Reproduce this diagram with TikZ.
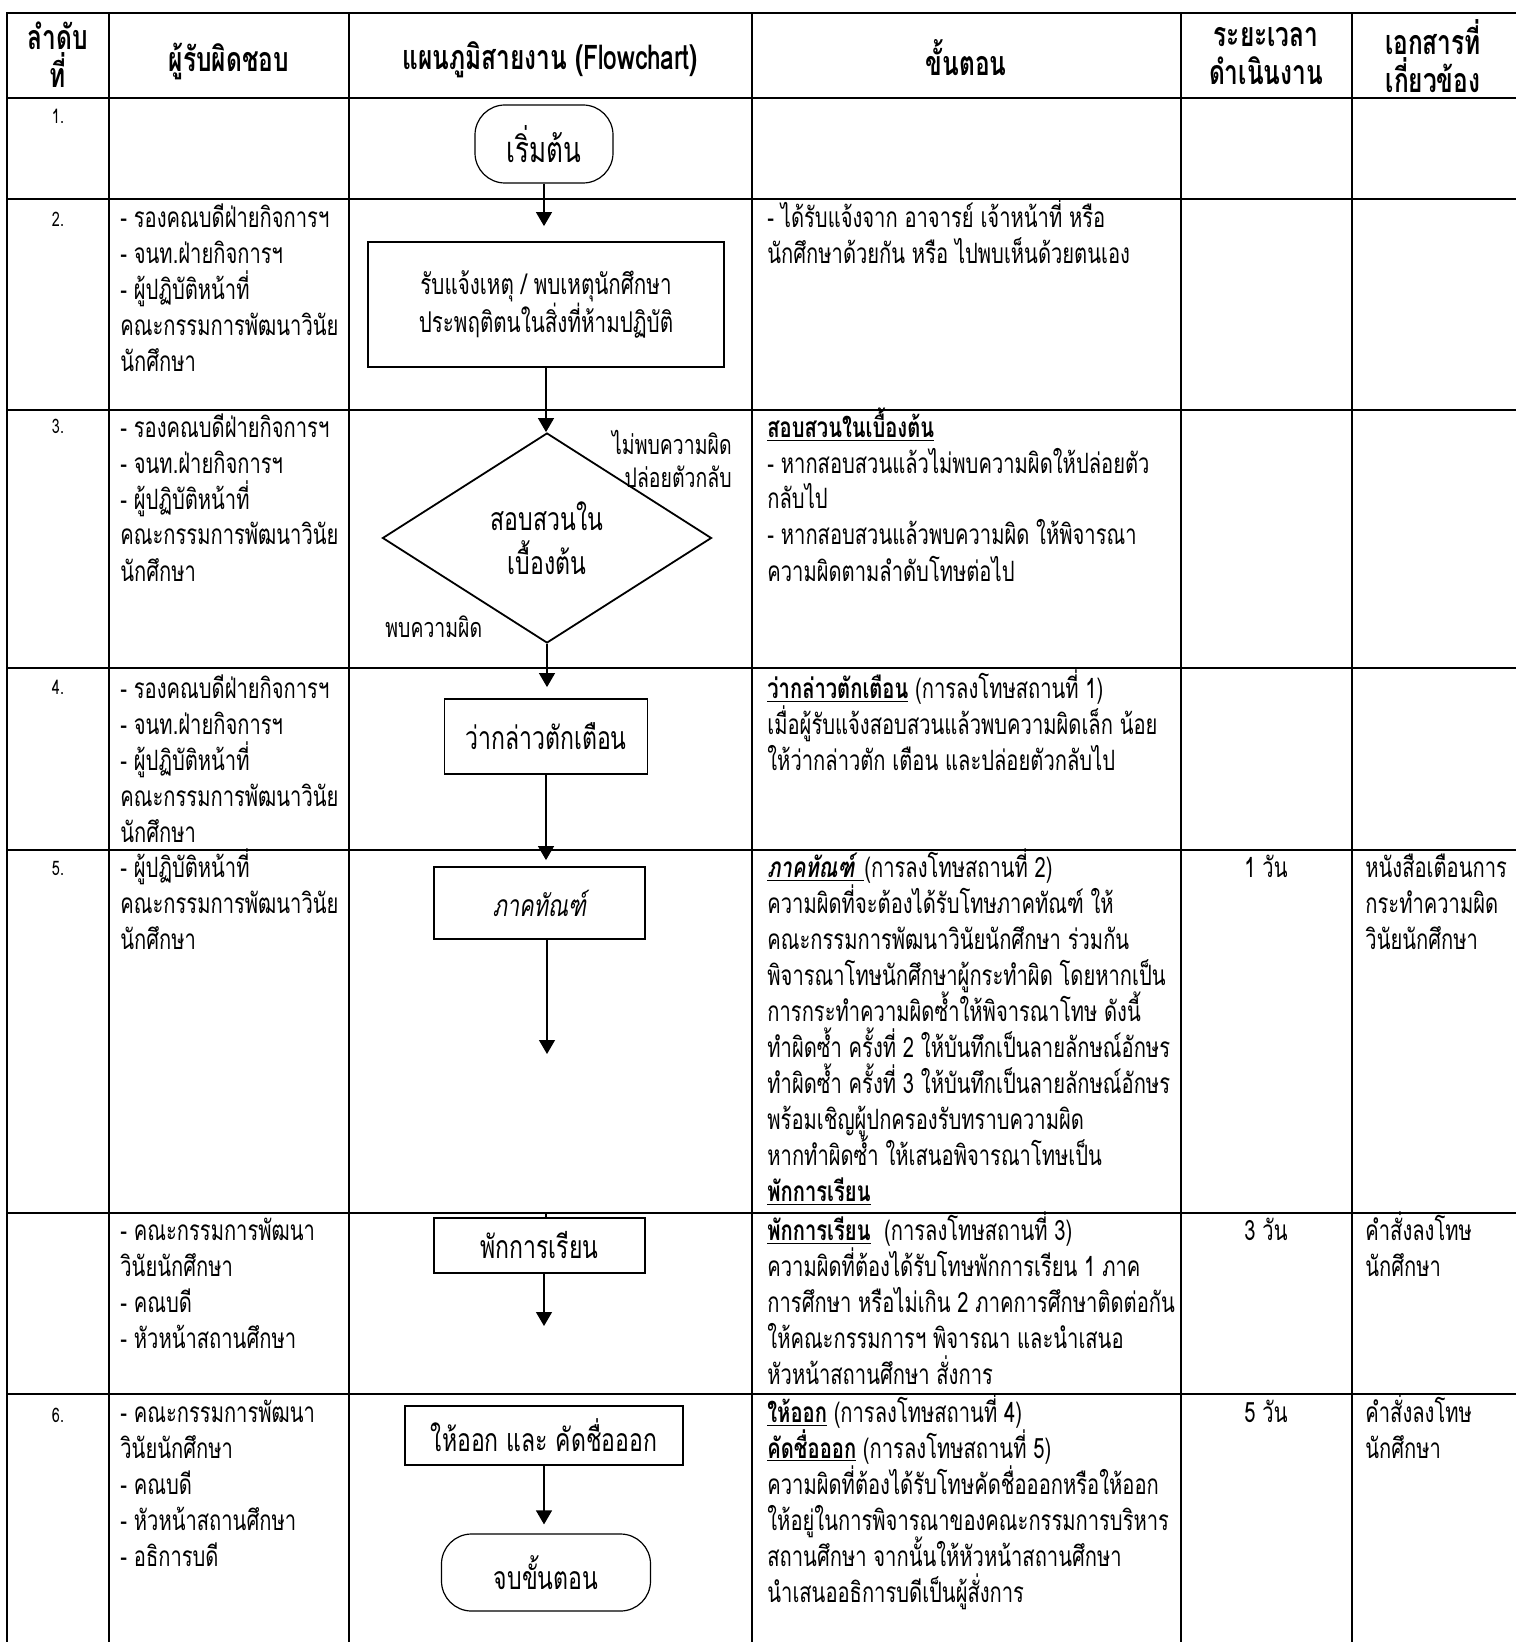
\documentclass[tikz,border=0pt]{standalone}
\usepackage{fontspec}
\setmainfont[Script=Thai, FakeStretch=0.72]{Loma}
\usepackage{tikz}
\usetikzlibrary{shapes.geometric, arrows.meta, positioning, calc}

% rows of a cell, baseline on the first row, fixed row pitch
\newcommand{\cellrows}[1]{\vtop{\lineskiplimit=-\maxdimen\def\\{\cr}%
  \halign{##\hfil\cr#1\crcr}}}

\tikzset{
  gridline/.style={line width=1.4pt, line cap=rect},
  cell/.style={anchor=base west, inner sep=0pt, font=\fontsize{14}{18}\selectfont},
  daycell/.style={anchor=base, inner sep=0pt, font=\fontsize{14}{18}\selectfont},
  numcell/.style={anchor=base, inner sep=0pt, font=\fontsize{10}{18}\selectfont},
  headcell/.style={align=center, inner sep=0pt, font=\bfseries\fontsize{17}{19}\selectfont},
  process/.style={rectangle, draw, line width=0.9pt, inner sep=2pt, align=center, font=\fontsize{16}{18}\selectfont},
  terminal/.style={rectangle, rounded corners=15pt, draw, line width=0.6pt, align=center, font=\fontsize{17}{18}\selectfont},
  decision/.style={diamond, draw, line width=0.9pt, inner sep=0pt, aspect=1.57, align=center, font=\fontsize{16}{22}\selectfont},
  flowlabel/.style={inner sep=0pt, font=\fontsize{13.5}{16.3}\selectfont},
  flow/.style={line width=0.6pt, -{Triangle[width=8pt, length=7pt]}},
}

\begin{document}
\begin{tikzpicture}[x=0.5pt, y=-0.5pt]
\useasboundingbox (0,0) rectangle (1515,1642);

% table grid
\foreach \y in {13,98,199,410,668,850,1213,1394}
  \draw[gridline] (7,\y) -- (1515,\y);
\foreach \x in {7,109,349,752,1181,1352}
  \draw[gridline] (\x,13) -- (\x,1642);

% header row
\node[headcell] (hnum) at (58,55) {ลำดับ\\ที่};
\node[headcell] (hresp) at (229,61) {ผู้รับผิดชอบ};
\node[headcell] (hflow) at (550,60) {แผนภูมิสายงาน (Flowchart)};
\node[headcell] (hstep) at (966,58) {ขั้นตอน};
\node[headcell] (htime) at (1266,56) {ระยะเวลา\\ดำเนินงาน};
\node[headcell] (hdoc) at (1433,56) {เอกสารที่\\เกี่ยวข้อง};

% step numbers
\node[numcell] (n1) at (58,124) {1.};
\node[numcell] (n2) at (58,227) {2.};
\node[numcell] (n3) at (58,433) {3.};
\node[numcell] (n4) at (58,694) {4.};
\node[numcell] (n5) at (58,875) {5.};
\node[numcell] (n6) at (58,1422) {6.};

% responsible persons
\node[cell] (r2) at (120,228) {\cellrows{- รองคณบดีฝ่ายกิจการฯ\\- จนท.ฝ่ายกิจการฯ\\- ผู้ปฏิบัติหน้าที่\\คณะกรรมการพัฒนาวินัย\\นักศึกษา}};
\node[cell] (r3) at (120,437) {\cellrows{- รองคณบดีฝ่ายกิจการฯ\\- จนท.ฝ่ายกิจการฯ\\- ผู้ปฏิบัติหน้าที่\\คณะกรรมการพัฒนาวินัย\\นักศึกษา}};
\node[cell] (r4) at (120,698) {\cellrows{- รองคณบดีฝ่ายกิจการฯ\\- จนท.ฝ่ายกิจการฯ\\- ผู้ปฏิบัติหน้าที่\\คณะกรรมการพัฒนาวินัย\\นักศึกษา}};
\node[cell] (r5) at (120,877) {\cellrows{- ผู้ปฏิบัติหน้าที่\\คณะกรรมการพัฒนาวินัย\\นักศึกษา}};
\node[cell] (r5b) at (120,1240) {\cellrows{- คณะกรรมการพัฒนา\\วินัยนักศึกษา\\- คณบดี\\- หัวหน้าสถานศึกษา}};
\node[cell] (r6) at (120,1422) {\cellrows{- คณะกรรมการพัฒนา\\วินัยนักศึกษา\\- คณบดี\\- หัวหน้าสถานศึกษา\\- อธิการบดี}};

% flowchart
\node[terminal, minimum width=69pt, minimum height=39pt, font=\fontsize{18}{18}\selectfont] (start) at (544,144) {เริ่มต้น};
\node[process, minimum width=178pt, minimum height=62.5pt, font=\fontsize{14.3}{18}\selectfont] (notify) at (546,304.5) {รับแจ้งเหตุ / พบเหตุนักศึกษา\\ประพฤติตนในสิ่งที่ห้ามปฏิบัติ};
\node[decision, minimum width=164.5pt, minimum height=105pt] (inquiry) at (547,538) {สอบสวนใน\\เบื้องต้น};
\node[process, minimum width=101.5pt, minimum height=37.5pt] (warn) at (546,736.5) {ว่ากล่าวตักเตือน};
\node[process, minimum width=105.5pt, minimum height=36pt, font=\fontsize{15}{18}\selectfont\itshape] (probation) at (539.5,903) {ภาคทัณฑ์};
\node[process, minimum width=105.5pt, minimum height=27.5pt] (suspend) at (539.5,1245.5) {พักการเรียน};
\node[process, minimum width=139pt, minimum height=29.5pt] (expel) at (544,1435.5) {ให้ออก และ คัดชื่อออก};
\node[terminal, minimum width=104.5pt, minimum height=38.5pt, font=\fontsize{16}{18}\selectfont] (finish) at (546,1572.5) {จบขั้นตอน};

\node[flowlabel, anchor=north east, align=right] (released) at (732,430) {ไม่พบความผิด\\ปล่อยตัวกลับ};
\node[flowlabel, anchor=base west] (guilty) at (385,637) {พบความผิด};

\coordinate (probend) at (547,1054);
\coordinate (suspin) at (546,1213);
\coordinate (suspend-out) at (544,1326);

\draw[flow, shorten >=7.5pt] (start) -- (start |- notify.north);
\draw[flow] (notify) -- (notify |- inquiry.north);
\draw[flow, shorten >=5.5pt] (inquiry) -- (inquiry |- warn.north);
\draw[flow, shorten >=3pt] (warn) -- (warn.south |- probation.north);
\draw[flow] (probation.south -| probend) -- (probend);
\draw[line width=0.6pt] (suspin) -- (suspin |- suspend.north);
\draw[flow] (suspend.south -| suspend-out) -- (suspend-out);
\draw[flow, shorten >=4.5pt] (expel) -- (expel |- finish.north);

% procedure descriptions
\node[cell] (s2) at (767,228) {\cellrows{- ได้รับแจ้งจาก อาจารย์ เจ้าหน้าที่ หรือ\\นักศึกษาด้วยกัน หรือ ไปพบเห็นด้วยตนเอง}};
\node[cell] (s3) at (767,437) {\cellrows{\underline{\textbf{สอบสวนในเบื้องต้น}}\\- หากสอบสวนแล้วไม่พบความผิดให้ปล่อยตัว\\กลับไป\\- หากสอบสวนแล้วพบความผิด ให้พิจารณา\\ความผิดตามลำดับโทษต่อไป}};
\node[cell] (s4) at (767,698) {\cellrows{\underline{\textbf{ว่ากล่าวตักเตือน}} (การลงโทษสถานที่ 1)\\เมื่อผู้รับแจ้งสอบสวนแล้วพบความผิดเล็ก น้อย\\ให้ว่ากล่าวตัก เตือน และปล่อยตัวกลับไป}};
\node[cell] (s5) at (767,877) {\cellrows{\underline{\textbf{\itshape ภาคทัณฑ์ }}(การลงโทษสถานที่ 2)\\ความผิดที่จะต้องได้รับโทษภาคทัณฑ์ ให้\\คณะกรรมการพัฒนาวินัยนักศึกษา ร่วมกัน\\พิจารณาโทษนักศึกษาผู้กระทำผิด โดยหากเป็น\\การกระทำความผิดซ้ำให้พิจารณาโทษ ดังนี้\\ทำผิดซ้ำ ครั้งที่ 2 ให้บันทึกเป็นลายลักษณ์อักษร\\ทำผิดซ้ำ ครั้งที่ 3 ให้บันทึกเป็นลายลักษณ์อักษร\\พร้อมเชิญผู้ปกครองรับทราบความผิด\\หากทำผิดซ้ำ ให้เสนอพิจารณาโทษเป็น\\\underline{\textbf{พักการเรียน}}}};
\node[cell] (s5b) at (767,1240) {\cellrows{\underline{\textbf{พักการเรียน}}\ \ (การลงโทษสถานที่ 3)\\ความผิดที่ต้องได้รับโทษพักการเรียน 1 ภาค\\การศึกษา หรือไม่เกิน 2 ภาคการศึกษาติดต่อกัน\\ให้คณะกรรมการฯ พิจารณา และนำเสนอ\\หัวหน้าสถานศึกษา สั่งการ}};
\node[cell] (s6) at (767,1422) {\cellrows{\underline{\textbf{ให้ออก}} (การลงโทษสถานที่ 4)\\\underline{\textbf{คัดชื่อออก}} (การลงโทษสถานที่ 5)\\ความผิดที่ต้องได้รับโทษคัดชื่อออกหรือให้ออก\\ให้อยู่ในการพิจารณาของคณะกรรมการบริหาร\\สถานศึกษา จากนั้นให้หัวหน้าสถานศึกษา\\นำเสนออธิการบดีเป็นผู้สั่งการ}};

% duration
\node[daycell] (t5) at (1266,877) {1 วัน};
\node[daycell] (t5b) at (1266,1240) {3 วัน};
\node[daycell] (t6) at (1266,1422) {5 วัน};

% documents
\node[cell] (d5) at (1365,877) {\cellrows{หนังสือเตือนการ\\กระทำความผิด\\วินัยนักศึกษา}};
\node[cell] (d5b) at (1365,1240) {\cellrows{คำสั่งลงโทษ\\นักศึกษา}};
\node[cell] (d6) at (1365,1422) {\cellrows{คำสั่งลงโทษ\\นักศึกษา}};
\end{tikzpicture}
\end{document}
